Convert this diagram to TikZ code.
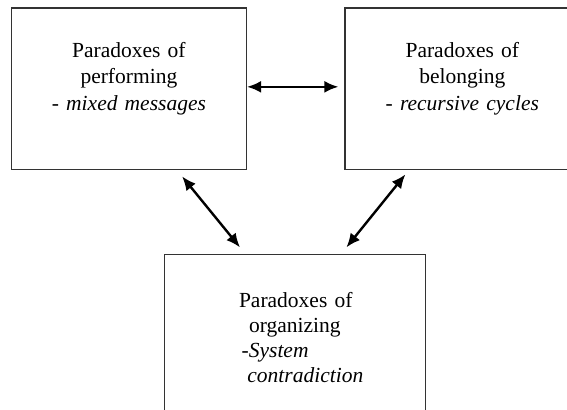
\documentclass[tikz,border=0pt]{standalone}
\usepackage{fontspec}
\setmainfont{Liberation Serif}
\usetikzlibrary{arrows.meta,calc,positioning}
\definecolor{ink}{HTML}{000000}
\definecolor{frame}{HTML}{333333}
\tikzset{
  basebox/.style={draw=frame,line width=0.7pt,fill=white,align=center,text=ink,inner sep=0pt},
  topbox/.style={basebox,text width=117.5pt,text height=24.7pt,text depth=56.15pt,font=\fontsize{10.75pt}{13.3pt}\selectfont},
  lowbox/.style={basebox,align=left,text width=56.2pt,inner xsep=37.15pt,text height=26.35pt,text depth=100pt,font=\fontsize{10.75pt}{12.5pt}\selectfont},
  link/.style={{Latex[length=7pt,width=6pt]}-{Latex[length=7pt,width=6pt]},line width=1.2pt,draw=ink}
}

\begin{document}
\begin{tikzpicture}
  \clip (0,0) rectangle (283.5pt,-205pt);
  % the three paradox boxes
  \node[topbox,anchor=north west] (perf) at (5.35pt,-3.65pt) {Paradoxes of\\performing\\- \textit{mixed messages}};
  \node[topbox,right=48.5pt of perf] (belong) {Paradoxes of\\belonging\\- \textit{recursive cycles}};
  \node[lowbox,below right=41.65pt and 76.65pt of perf.south west] (org) {Paradoxes~of\\\hspace*{5pt}organizing\\\hspace*{1.35pt}-\textit{System}\\\hspace*{4.2pt}\mbox{\textit{contradiction}}};
  % links
  \draw[link] ([yshift=1pt]perf.east) -- ([xshift=-2.85pt,yshift=1pt]belong.west);
  \draw[link] ([xshift=-32.5pt,yshift=-3pt]perf.south east) -- ([xshift=38pt,yshift=3.15pt]org.north west);
  \draw[link] ([xshift=30.65pt,yshift=-2pt]belong.south west) -- ([xshift=-40pt,yshift=3.15pt]org.north east);
\end{tikzpicture}
\end{document}
